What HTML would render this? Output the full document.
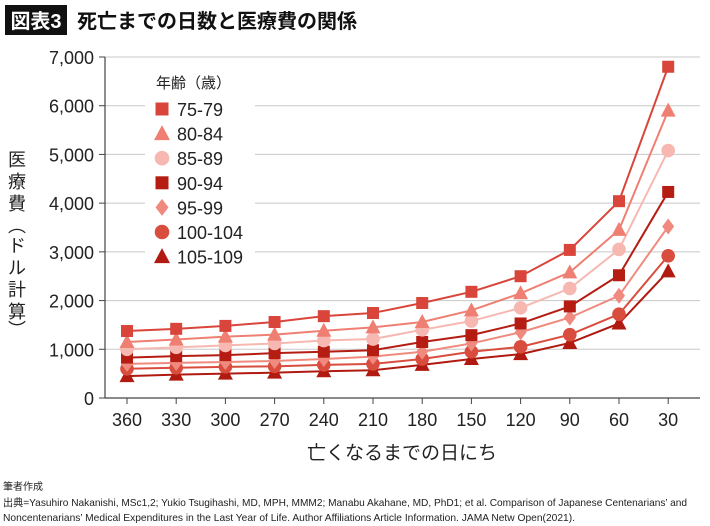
<!DOCTYPE html>
<html><head><meta charset="utf-8"><style>
body{margin:0;background:#fff}
svg{display:block;font-family:"Liberation Sans","Noto Sans CJK JP",sans-serif}
</style></head><body>
<svg id="c" width="710" height="526" viewBox="0 0 710 526">
<rect x="5" y="5" width="62" height="30" fill="#111"/>
<text x="36" y="28" fill="#fff" font-size="20" font-weight="bold" text-anchor="middle">図表3</text>
<text x="77" y="28" fill="#111" font-size="20" font-weight="600">死亡までの日数と医療費の関係</text>
<g id="grid"></g>
<g id="axes"></g>
<g id="series"></g>
<g id="legend"></g>
<text font-size="18" fill="#222" text-anchor="middle">
<tspan x="17" y="166">医</tspan><tspan x="17" y="188">療</tspan><tspan x="17" y="210">費</tspan><tspan x="17" y="232">︵</tspan><tspan x="17" y="252">ド</tspan><tspan x="17" y="274">ル</tspan><tspan x="17" y="296">計</tspan><tspan x="17" y="318">算</tspan><tspan x="17" y="336">︶</tspan></text>
<text x="402" y="459" font-size="19" fill="#222" text-anchor="middle">亡くなるまでの日にち</text>
<text x="3" y="490" font-size="10" fill="#222">筆者作成</text>
<text x="3" y="506" font-size="10.5" fill="#222" textLength="684" lengthAdjust="spacingAndGlyphs">出典=Yasuhiro Nakanishi, MSc1,2; Yukio Tsugihashi, MD, MPH, MMM2; Manabu Akahane, MD, PhD1; et al. Comparison of Japanese Centenarians’ and</text>
<text x="3" y="521" font-size="10.5" fill="#222" textLength="572" lengthAdjust="spacingAndGlyphs">Noncentenarians’ Medical Expenditures in the Last Year of Life. Author Affiliations Article Information. JAMA Netw Open(2021).</text>
</svg>
<script>
const categories=[360,330,300,270,240,210,180,150,120,90,60,30];
const yTicks=[0,1000,2000,3000,4000,5000,6000,7000];
const yTickLabels=["0","1,000","2,000","3,000","4,000","5,000","6,000","7,000"];
const seriesNames=["75-79","80-84","85-89","90-94","95-99","100-104","105-109"];
const s7579=[1375,1420,1480,1560,1680,1745,1950,2180,2500,3040,4040,6800];
const s8084=[1150,1200,1260,1300,1380,1450,1560,1800,2150,2580,3450,5900];
const s8589=[1000,1040,1080,1120,1180,1210,1400,1580,1850,2250,3050,5080];
const s9094=[830,860,880,920,950,980,1150,1290,1530,1880,2520,4230];
const s9599=[700,720,740,760,800,850,950,1120,1350,1650,2100,3520];
const s100104=[600,620,640,650,680,700,800,950,1050,1300,1720,2920];
const s105109=[450,480,500,520,550,570,680,800,900,1130,1530,2600];
const allSeries=[s7579,s8084,s8589,s9094,s9599,s100104,s105109];
const markers=["square","triangle","circle","square","diamond","circle","triangle"];
const colors=["#d9453b","#ef7f72","#f6b8b0","#b51c12","#f08a7e","#d94d3e","#b01a10"];
const NS="http://www.w3.org/2000/svg";
const x0=127,dx=49.2,yBase=398,yTop=57;
function xs(i){return x0+i*dx;}
function ys(v){return yBase-(v/7000)*(yBase-yTop);}
function mk(tag,at,parent){const e=document.createElementNS(NS,tag);for(const k in at)e.setAttribute(k,at[k]);parent.appendChild(e);return e;}
const grid=document.getElementById('grid'),axes=document.getElementById('axes'),ser=document.getElementById('series'),leg=document.getElementById('legend');
yTicks.forEach((t,i)=>{
 if(t>0){const g=mk('line',{x1:105,x2:700,y1:ys(t),y2:ys(t),stroke:'#c8c8c8','stroke-width':1},grid);
 
 }
 const tk=mk('line',{x1:99,x2:105,y1:ys(t),y2:ys(t),stroke:'#444'},axes);
 
 
 const l=mk('text',{x:94,y:ys(t)+7,'font-size':18,'text-anchor':'end',fill:'#222'},axes);l.textContent=yTickLabels[i];
 
 
});
const ya=mk('line',{x1:105,x2:105,y1:yTop,y2:yBase,stroke:'#444','stroke-width':1.2},axes);


const xa=mk('line',{x1:105,x2:700,y1:yBase,y2:yBase,stroke:'#444','stroke-width':1.2},axes);


categories.forEach((c,i)=>{
 const tk=mk('line',{x1:xs(i),x2:xs(i),y1:yBase,y2:yBase+6,stroke:'#444'},axes);
 
 
 const l=mk('text',{x:xs(i),y:yBase+28,'font-size':18,'text-anchor':'middle',fill:'#222'},axes);l.textContent=c;
 
 
});
function marker(type,cx,cy,col,p,sz){
 let e;
 if(type==='square')e=mk('rect',{x:cx-sz,y:cy-sz,width:2*sz,height:2*sz,fill:col},p);
 else if(type==='circle')e=mk('circle',{cx:cx,cy:cy,r:sz+0.8,fill:col},p);
 else if(type==='triangle')e=mk('polygon',{points:`${cx},${cy-sz-2} ${cx-sz-1.5},${cy+sz} ${cx+sz+1.5},${cy+sz}`,fill:col},p);
 else e=mk('polygon',{points:`${cx},${cy-sz-2} ${cx+sz},${cy} ${cx},${cy+sz+2} ${cx-sz},${cy}`,fill:col},p);
 return e;
}
const lb=mk('rect',{x:145,y:67,width:110,height:212,fill:'#fff'},leg);


const lt=mk('text',{x:156,y:88,'font-size':15,fill:'#222'},leg);lt.textContent='年齢（歳）';


for(let k=allSeries.length-1;k>=0;k--){
 const vals=allSeries[k];
 const g=mk('g',{},ser);
 
 
 const pl=mk('polyline',{points:vals.map((v,i)=>xs(i)+','+ys(v)).join(' '),fill:'none',stroke:colors[k],'stroke-width':2},g);
 
 
 vals.forEach((v,i)=>{const m=marker(markers[k],xs(i),ys(v),colors[k],g,6);
  
  });
}
seriesNames.forEach((n,k)=>{
 const y=109+k*24.6;
 const g=mk('g',{},leg);
 
 
 marker(markers[k],162,y,colors[k],g,6.5);
 const t=mk('text',{x:177,y:y+7,'font-size':18,fill:'#222'},g);t.textContent=n;
});
</script>
</body></html>
